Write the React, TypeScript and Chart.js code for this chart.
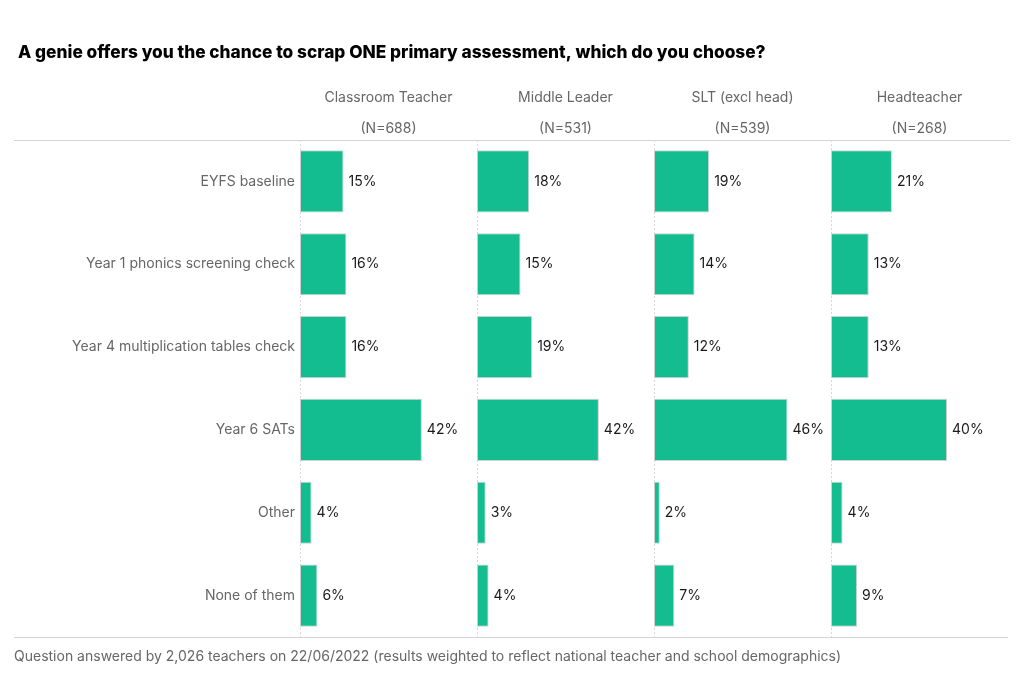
import React, { useEffect, useRef } from "react";
import { Chart, registerables } from "chart.js";

Chart.register(...registerables);

const TITLE = "A genie offers you the chance to scrap ONE primary assessment, which do you choose?";
const FOOTNOTE =
  "Question answered by 2,026 teachers on 22/06/2022 (results weighted to reflect national teacher and school demographics)";

const categories = [
  "EYFS baseline",
  "Year 1 phonics screening check",
  "Year 4 multiplication tables check",
  "Year 6 SATs",
  "Other",
  "None of them",
];
const groups = ["Classroom Teacher", "Middle Leader", "SLT (excl head)", "Headteacher"];
const sampleSizes = ["(N=688)", "(N=531)", "(N=539)", "(N=268)"];
const classroomTeacher = [15, 16, 16, 42, 4, 6];
const middleLeader = [18, 15, 19, 42, 3, 4];
const sltExclHead = [19, 14, 12, 46, 2, 7];
const headteacher = [21, 13, 13, 40, 4, 9];

const seriesValues = [classroomTeacher, middleLeader, sltExclHead, headteacher];

const FONT = "Inter, 'Open Sans', sans-serif";
const GREEN = "#14bd8f";

const decorPlugin = {
  id: "decor",
  beforeDatasetsDraw(chart: any) {
    const { ctx, chartArea } = chart;
    ctx.save();
    ctx.strokeStyle = "#d4d4d4";
    ctx.lineWidth = 1;
    ctx.beginPath();
    ctx.moveTo(14, chartArea.top + 0.5);
    ctx.lineTo(1010, chartArea.top + 0.5);
    ctx.moveTo(14, chartArea.bottom + 0.5);
    ctx.lineTo(1008, chartArea.bottom + 0.5);
    ctx.stroke();
    ctx.strokeStyle = "#d8d8d8";
    ctx.setLineDash([2, 2]);
    groups.forEach((_, i) => {
      const sc = chart.scales["x" + i];
      const x = Math.round(sc.getPixelForValue(0)) + 0.5;
      ctx.beginPath();
      ctx.moveTo(x, chartArea.top);
      ctx.lineTo(x, chartArea.bottom);
      ctx.stroke();
    });
    ctx.restore();
  },
  afterDatasetsDraw(chart: any) {
    const { ctx } = chart;
    ctx.save();
    ctx.fillStyle = "#1a1a1a";
    ctx.font = `14px ${FONT}`;
    ctx.textAlign = "left";
    ctx.textBaseline = "middle";
    chart.data.datasets.forEach((ds: any, i: number) => {
      const meta = chart.getDatasetMeta(i);
      meta.data.forEach((bar: any, j: number) => {
        ctx.fillText(ds.data[j] + "%", bar.x + 5, bar.y);
      });
    });
    ctx.fillStyle = "#000";
    ctx.font = `800 17.3px ${FONT}`;
    ctx.fillText(TITLE, 18, 53);
    ctx.fillStyle = "#666";
    ctx.font = `14px ${FONT}`;
    ctx.textAlign = "center";
    groups.forEach((g, i) => {
      const sc = chart.scales["x" + i];
      const cx = (sc.left + sc.right) / 2;
      ctx.fillText(g, cx, 98);
      ctx.fillText(sampleSizes[i], cx, 129);
    });
    ctx.textAlign = "left";
    ctx.fillText(FOOTNOTE, 14, 657);
    ctx.restore();
  },
};

export default function App() {
  const ref = useRef<HTMLCanvasElement | null>(null);
  useEffect(() => {
    if (!ref.current) return;
    const xScales: any = {};
    groups.forEach((_, i) => {
      xScales["x" + i] = {
        type: "linear",
        position: "bottom",
        stack: "panels",
        stackWeight: 1,
        min: 0,
        max: 61,
        display: true,
        grid: { display: false },
        border: { display: false },
        ticks: { display: false },
        afterFit: (s: any) => {
          s.height = 0;
        },
      };
    });
    const chart = new Chart(ref.current, {
      type: "bar",
      data: {
        labels: categories,
        datasets: seriesValues.map((vals, i) => ({
          label: groups[i],
          data: vals,
          xAxisID: "x" + i,
          yAxisID: "y",
          grouped: false,
          backgroundColor: GREEN,
          borderColor: "#cfcfcf",
          borderWidth: 1,
          borderSkipped: false,
          barPercentage: 0.75,
          categoryPercentage: 1,
        })),
      },
      options: {
        indexAxis: "y",
        responsive: false,
        animation: false,
        layout: { padding: { left: 0, right: 16, top: 140, bottom: 46 } },
        plugins: { legend: { display: false }, tooltip: { enabled: false } },
        scales: {
          ...xScales,
          y: {
            type: "category",
            position: "left",
            grid: { display: false },
            border: { display: false },
            ticks: { color: "#666", font: { family: FONT, size: 14 }, padding: -3 },
            afterFit: (s: any) => {
              s.width = 300;
            },
          },
        },
      },
      plugins: [decorPlugin],
    } as any);
    return () => chart.destroy();
  }, []);
  return (
    <div style={{ position: "fixed", left: 0, top: 0, width: 1024, height: 683, background: "#fff" }}>
      <canvas ref={ref} width={1024} height={683} style={{ width: 1024, height: 683 }} />
    </div>
  );
}
